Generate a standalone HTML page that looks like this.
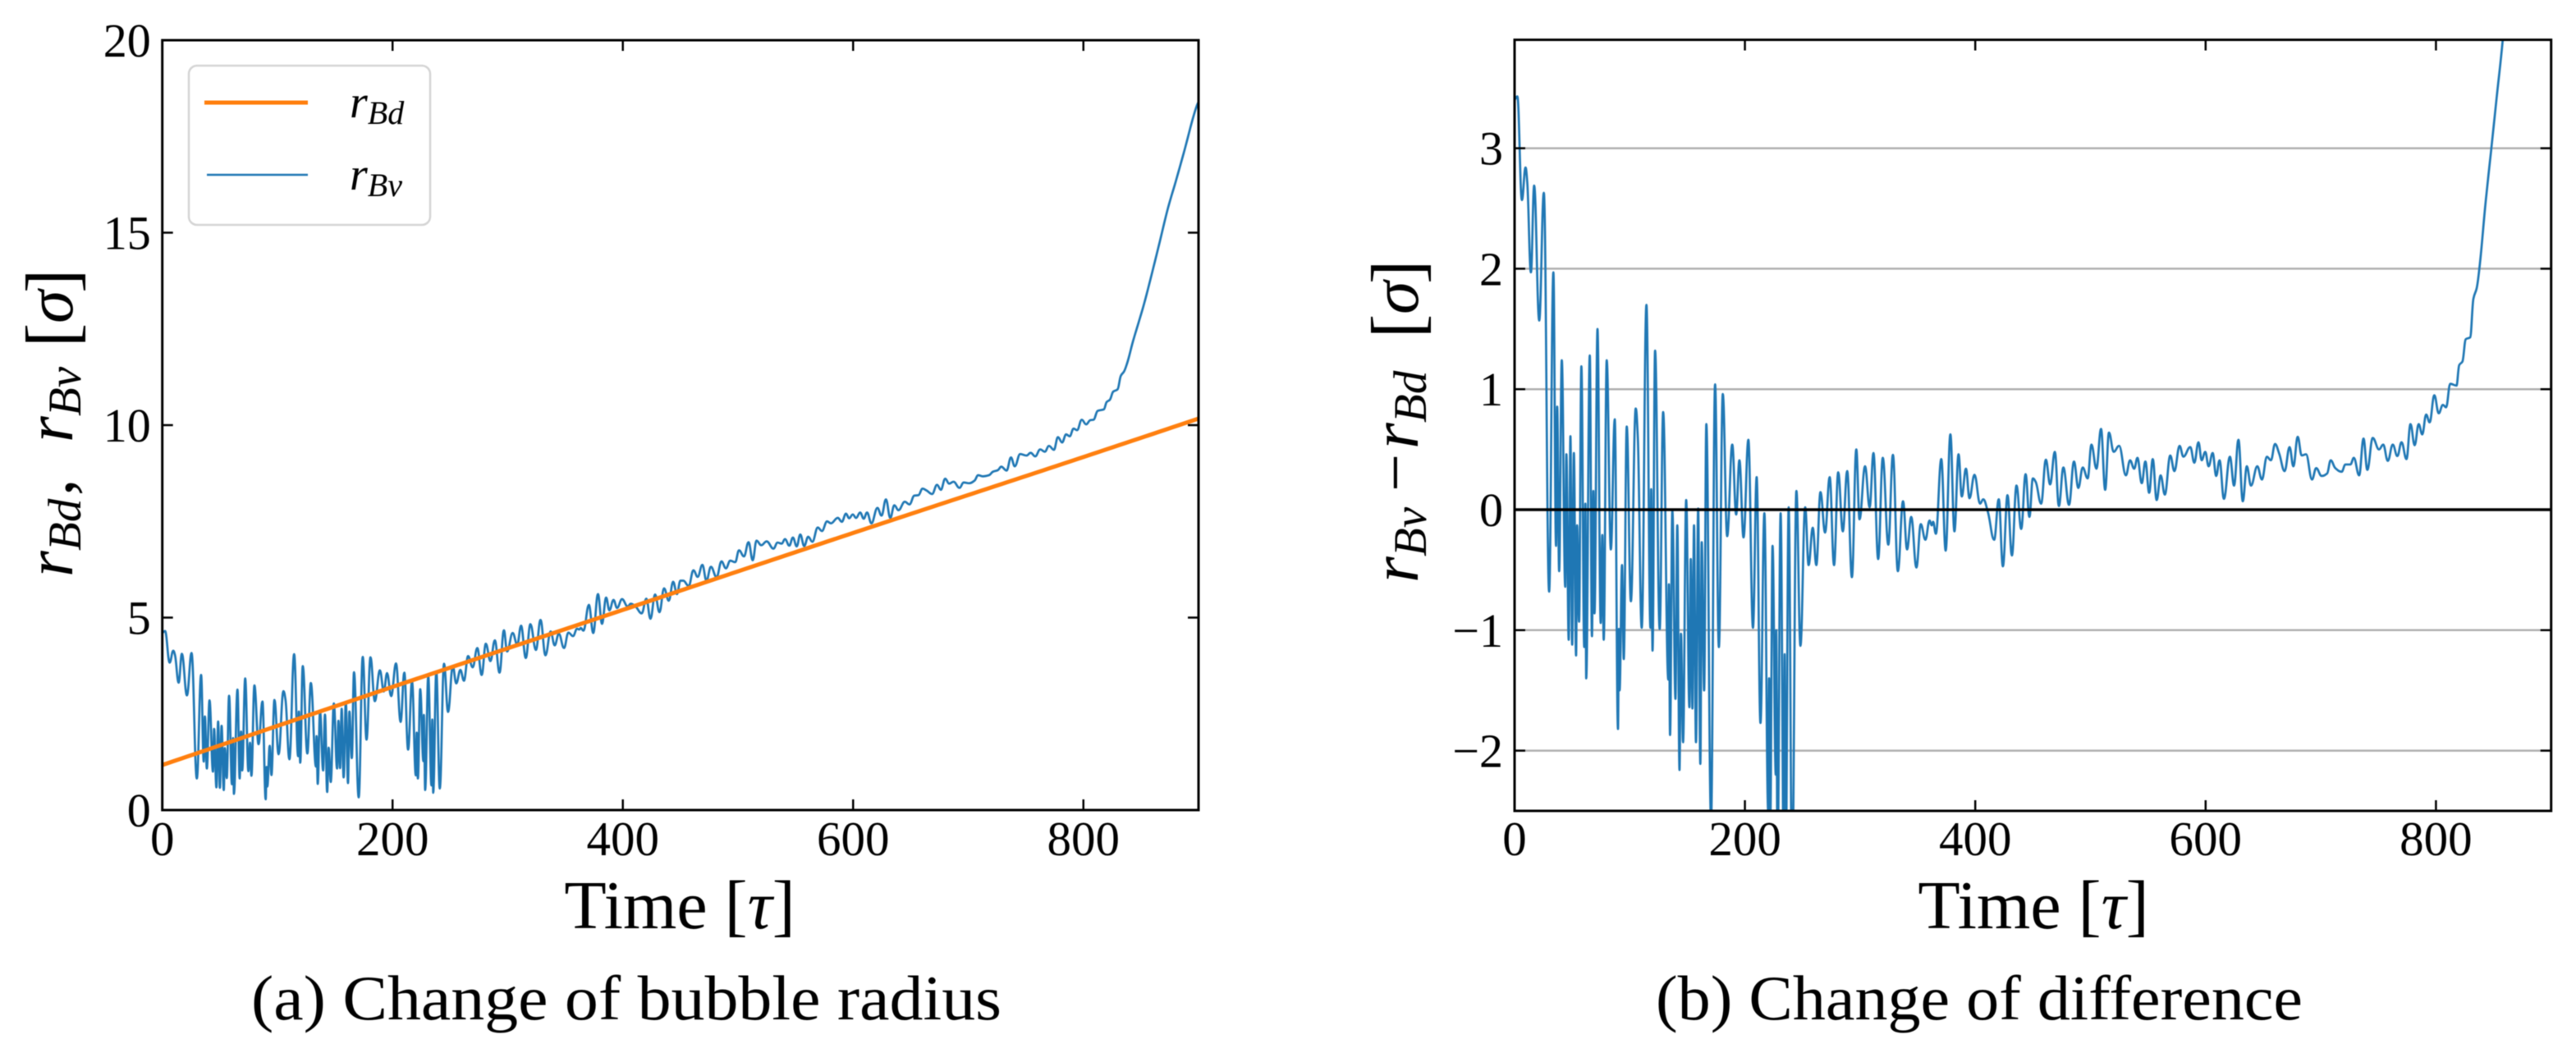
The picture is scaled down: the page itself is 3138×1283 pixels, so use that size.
<!DOCTYPE html>
<html lang="en">
<head>
<meta charset="utf-8">
<title>Bubble radius and difference over time</title>
<style>
html,body{margin:0;padding:0;background:#fff;width:3138px;height:1283px;overflow:hidden}
svg{display:block;filter:blur(0.6px)}
text{font-family:"Liberation Serif",serif;fill:#000}
.it{font-style:italic}
</style>
</head>
<body>
<svg id="figure" xmlns="http://www.w3.org/2000/svg" width="3138" height="1283" viewBox="0 0 3138 1283">
  <defs>
    <clipPath id="clip-a"><rect x="197.7" y="49" width="1262.3" height="938"/></clipPath>
    <clipPath id="clip-b"><rect x="1845" y="48.5" width="1262.7" height="939.5"/></clipPath>
  </defs>
  <g id="panel-a"></g>
  <g id="panel-b"></g>

  <g>
    <rect x="230" y="80" width="294" height="194" rx="10" ry="10" fill="#fff" fill-opacity="0.9" stroke="#d4d4d4" stroke-width="2.5"/>
    <line x1="249" y1="125" x2="375" y2="125" stroke="#ff7f0e" stroke-width="5"/>
    <line x1="252" y1="213" x2="375" y2="213" stroke="#1f77b4" stroke-width="2.6"/>
    <text x="426" y="143" font-size="56" class="it">r<tspan font-size="40" dy="8">Bd</tspan></text>
    <text x="426" y="231" font-size="56" class="it">r<tspan font-size="40" dy="8">Bv</tspan></text>
  </g>

  <text transform="translate(88,703) rotate(-90)" font-size="82"><tspan class="it" x="0" y="0">r</tspan><tspan class="it" font-size="57" x="32" y="10">Bd</tspan><tspan x="99" y="0">,</tspan><tspan class="it" x="164" y="0">r</tspan><tspan class="it" font-size="57" x="196" y="10">Bv</tspan><tspan font-size="88" x="280" y="4">[</tspan><tspan class="it" x="309" y="0">σ</tspan><tspan font-size="88" x="346" y="4">]</tspan></text>
  <text transform="translate(1727,710) rotate(-90)" font-size="82"><tspan class="it" x="0" y="0">r</tspan><tspan class="it" font-size="57" x="32" y="10">Bv</tspan><tspan x="111" y="0">−</tspan><tspan class="it" x="163" y="0">r</tspan><tspan class="it" font-size="57" x="195" y="10">Bd</tspan><tspan font-size="88" x="298" y="4">[</tspan><tspan class="it" x="327" y="0">σ</tspan><tspan font-size="88" x="364" y="4">]</tspan></text>

  <text x="828" y="1131" font-size="84" text-anchor="middle">Time [<tspan class="it">τ</tspan>]</text>
  <text x="2477" y="1131" font-size="84" text-anchor="middle">Time [<tspan class="it">τ</tspan>]</text>

  <text x="306" y="1242" font-size="77" textLength="914" lengthAdjust="spacingAndGlyphs">(a) Change of bubble radius</text>
  <text x="2017" y="1242" font-size="77" textLength="788" lengthAdjust="spacingAndGlyphs">(b) Change of difference</text>
</svg>

<script>
const xTickValues = [0, 200, 400, 600, 800];
const radiusTickValues = [0, 5, 10, 15, 20];
const differenceTickValues = [-2, -1, 0, 1, 2, 3];
const differenceGridValues = [-2, -1, 1, 2, 3];
const zeroLineValue = [0];
const xLimits = [0, 900];
const radiusLimits = [0, 20];
const differenceLimits = [-2.5, 3.9];

const rBdTimes = [0, 200, 400, 600, 800, 900];
const rBdValues = [1.17, 3.2, 5.2, 7.2, 9.17, 10.17];

const times = [0,2.4,6.4,9.5,11,14.2,17,21.4,25.4,30,33.7,36,37,38.7,41,44,45,47,48.5,50,51.5,53.4,54.3,56,58,60.5,61.5,62.2,65.3,67.2,68.4,69.4,72,74.8,76.2,77.4,80,83.6,87,89.8,90.6,91.2,93.3,94.8,97.4,101,105.2,107,110.4,114.5,118,118.6,119.8,122,126,129,133.5,134,135,137,139.7,141.3,143.2,144.5,146.3,149,151.8,153,154.4,155.8,157.5,159.4,161.3,162.5,164.6,166.5,170.6,174.1,177.4,180.8,184.6,189,192.4,195.2,198.8,203,207,210.2,213.5,216.9,220.2,221,222,224,226.8,227.2,228.3,231,233.8,234.5,235.3,238,241,244.7,248.2,252.3,255.3,258.9,262,265.6,269.6,273.6,277.4,281,285,288.8,292.9,296.7,299.5,304.3,308.3,311.6,315.7,319.7,324.5,328.5,332.8,337.3,340.8,344.4,348.9,352.7,356.7,360.3,362.2,363.4,365.8,370.5,374.3,378.4,381.9,385.5,388.3,391.9,395,399.3,404.2,406.9,411,416.4,420.4,424,428,431.8,435.8,439.9,443.7,447,450,452.5,457.2,461.3,465,469.1,472.6,476.5,481.4,485.7,489.5,493.3,497.6,500.9,505.2,509.2,512.8,516.1,520.2,524.9,530.8,534.4,538,540.8,544.6,547.7,551,554.1,557.5,561,564.6,569.3,572.9,577.4,580.7,586.7,590.2,593.8,596.6,599.7,602.6,606.1,609.2,612.1,615.9,621.1,624.7,628.5,632.3,635.8,639.4,644.9,648.9,653.2,656.7,660.3,663.9,668.6,672.9,676.2,680,683.4,687.2,692.4,696,700.7,705.5,708.6,712.6,718.1,721.4,725.7,728.7,733.3,737.1,740.4,745.1,750.6,754.2,758.2,762.5,766.5,770.1,774.4,777.9,781.5,785,788.1,791.5,794.5,798.6,802.4,806,808.8,812.4,817.8,820.2,823,825.9,829.7,832.5,835.4,837.8,843.2,848,852.7,858,866.3,873.4,880.5,887.7,898.3,900];

const rBvValues = [4.60,4.65,3.83,4.14,4.03,3.31,4.06,2.98,4.08,0.82,3.51,1.26,2.43,1.08,2.85,1.00,2.11,0.59,2.30,0.58,2.19,0.52,1.61,0.83,2.97,0.67,1.87,0.42,3.13,0.82,2.04,1.03,3.42,1.01,1.75,0.89,3.24,1.71,2.82,0.28,1.12,0.61,1.67,0.91,2.86,1.45,3.09,2.87,1.32,4.05,1.40,2.56,1.23,3.74,1.47,3.30,1.13,1.92,0.68,2.56,1.03,2.48,0.47,1.62,0.73,2.77,1.08,2.32,1.09,2.63,0.85,2.80,0.70,2.56,1.35,3.58,0.33,3.98,1.83,3.97,2.83,3.63,3.08,3.56,2.96,3.81,2.29,3.57,1.57,3.34,0.90,2.01,0.82,3.14,1.27,2.47,0.52,3.48,0.64,2.35,0.45,3.60,0.56,3.80,2.55,3.74,3.29,3.64,3.36,4.00,3.71,4.21,3.51,4.32,3.87,4.41,3.57,4.67,4.12,4.60,4.30,4.79,3.95,4.83,4.16,4.94,4.02,4.64,4.28,4.58,4.21,4.61,4.52,4.71,4.69,4.73,4.66,5.33,4.60,5.61,4.84,5.52,5.19,5.46,5.25,5.48,5.29,5.36,5.29,5.11,5.49,4.97,5.60,5.14,5.76,5.44,5.93,5.61,5.96,5.96,5.82,6.23,6.06,6.37,5.96,6.32,6.05,6.46,6.28,6.48,6.44,6.75,6.59,6.96,6.49,7.00,6.88,6.98,6.79,6.95,6.92,7.04,6.87,7.08,6.85,7.16,6.86,7.10,6.97,7.34,7.25,7.50,7.45,7.59,7.49,7.70,7.58,7.68,7.59,7.73,7.57,7.73,7.45,7.85,7.65,8.07,7.59,7.92,7.79,8.01,7.94,8.17,8.18,8.35,8.30,8.21,8.45,8.32,8.61,8.48,8.53,8.37,8.51,8.49,8.56,8.70,8.67,8.70,8.79,8.83,8.92,8.82,9.16,8.93,9.25,9.21,9.28,9.19,9.37,9.31,9.46,9.36,9.69,9.55,9.76,9.71,9.91,9.87,10.14,10.02,10.13,10.14,10.37,10.41,10.60,10.66,10.87,10.93,11.28,11.40,11.59,12.19,12.67,13.15,13.76,14.76,15.63,16.36,17.13,18.28,18.40];

const differenceValues = [3.40,3.43,2.57,2.84,2.72,1.97,2.69,1.57,2.63,-0.68,1.97,-0.30,0.855,-0.51,1.24,-0.64,0.46,-1.08,0.61,-1.12,0.47,-1.21,-0.13,-0.93,1.19,-1.14,0.05,-1.40,1.28,-1.05,0.155,-0.86,1.50,-0.94,-0.21,-1.08,1.24,-0.33,0.75,-1.82,-0.99,-1.50,-0.46,-1.24,0.69,-0.76,0.84,0.60,-0.98,1.70,-0.98,0.17,-1.17,1.32,-0.99,0.81,-1.41,-0.62,-1.87,-0.01,-1.57,-0.13,-2.16,-1.03,-1.93,0.08,-1.64,-0.41,-1.65,-0.13,-1.93,0.01,-2.11,-0.27,-1.50,0.71,-2.58,1.04,-1.14,0.96,-0.22,0.54,-0.04,0.41,-0.23,0.58,-0.98,0.27,-1.77,-0.03,-2.50,-1.40,-2.60,-0.30,-2.20,-1.00,-2.96,-0.03,-2.90,-1.20,-3.10,0.02,-3.05,0.155,-1.13,0.02,-0.46,-0.15,-0.46,0.146,-0.19,0.27,-0.46,0.31,-0.18,0.32,-0.56,0.50,-0.08,0.36,0.02,0.47,-0.41,0.43,-0.29,0.455,-0.51,0.07,-0.33,-0.06,-0.48,-0.12,-0.25,-0.09,-0.13,-0.10,-0.20,0.42,-0.34,0.625,-0.18,0.46,0.11,0.34,0.095,0.29,0.05,0.086,-0.02,-0.25,0.086,-0.47,0.12,-0.38,0.20,-0.16,0.295,-0.06,0.26,0.23,0.05,0.415,0.21,0.48,0.03,0.35,0.04,0.40,0.18,0.35,0.26,0.54,0.34,0.67,0.165,0.64,0.48,0.53,0.285,0.41,0.34,0.43,0.22,0.40,0.14,0.42,0.08,0.285,0.125,0.45,0.32,0.53,0.44,0.52,0.39,0.56,0.41,0.48,0.36,0.47,0.28,0.41,0.09,0.44,0.20,0.58,0.07,0.36,0.20,0.36,0.25,0.44,0.41,0.545,0.465,0.32,0.52,0.36,0.605,0.45,0.46,0.25,0.345,0.28,0.30,0.41,0.345,0.315,0.375,0.375,0.43,0.285,0.59,0.33,0.595,0.50,0.54,0.405,0.54,0.445,0.56,0.42,0.71,0.535,0.71,0.625,0.79,0.725,0.95,0.80,0.87,0.85,1.045,1.03,1.20,1.23,1.415,1.43,1.75,1.84,2.01,2.56,2.99,3.42,3.90,4.90,5.70,6.35,7.05,8.10,8.20];

const SVG_NS = 'http://www.w3.org/2000/svg';

function scale(domain, range) {
  return function (v) {
    return range[0] + (v - domain[0]) * (range[1] - range[0]) / (domain[1] - domain[0]);
  };
}

function make(parent, tag, attrs) {
  const el = document.createElementNS(SVG_NS, tag);
  for (const k in attrs) el.setAttribute(k, attrs[k]);
  parent.appendChild(el);
  return el;
}

/* Monotone cubic path: extrema get flat tangents, so peaks and troughs round off as in the reference. */
function pathFrom(xs, ys, xFn, yFn) {
  const px = xs.map(xFn);
  const py = ys.map(yFn);
  const n = px.length;
  const slope = [];
  for (let i = 0; i < n - 1; i++) slope.push((py[i + 1] - py[i]) / (px[i + 1] - px[i]));
  const tangent = [];
  for (let i = 0; i < n; i++) {
    if (i === 0) tangent.push(slope[0]);
    else if (i === n - 1) tangent.push(slope[n - 2]);
    else if (slope[i - 1] * slope[i] <= 0) tangent.push(0);
    else tangent.push(2 * slope[i - 1] * slope[i] / (slope[i - 1] + slope[i]));
  }
  let d = 'M' + px[0].toFixed(2) + ' ' + py[0].toFixed(2);
  for (let i = 0; i < n - 1; i++) {
    const h = (px[i + 1] - px[i]) * 0.4;
    d += 'C' + (px[i] + h).toFixed(2) + ' ' + (py[i] + tangent[i] * h).toFixed(2) + ' ' +
         (px[i + 1] - h).toFixed(2) + ' ' + (py[i + 1] - tangent[i + 1] * h).toFixed(2) + ' ' +
         px[i + 1].toFixed(2) + ' ' + py[i + 1].toFixed(2);
  }
  return d;
}

function drawFrameAndTicks(g, xFn, yFn, box, yTicks) {
  xTickValues.forEach(function (v) {
    const lower = make(g, 'line', {x1: xFn(v), x2: xFn(v), y1: box.bottom, y2: box.bottom - 13, stroke: '#000', 'stroke-width': 2.5});
    
    
    const upper = make(g, 'line', {x1: xFn(v), x2: xFn(v), y1: box.top, y2: box.top + 13, stroke: '#000', 'stroke-width': 2.5});
    
    
    const label = make(g, 'text', {x: xFn(v), y: 1042, 'font-size': 59, 'text-anchor': 'middle'});
    label.textContent = String(v);
    
    
  });
  yTicks.forEach(function (v) {
    const lefty = make(g, 'line', {x1: box.left, x2: box.left + 13, y1: yFn(v), y2: yFn(v), stroke: '#000', 'stroke-width': 2.5});
    
    
    const righty = make(g, 'line', {x1: box.right, x2: box.right - 13, y1: yFn(v), y2: yFn(v), stroke: '#000', 'stroke-width': 2.5});
    
    
    const label = make(g, 'text', {x: box.left - 14, y: yFn(v) + 20, 'font-size': 58, 'text-anchor': 'end'});
    label.textContent = String(v).replace('-', '\u2212');
    
    
  });
  const frame = make(g, 'rect', {x: box.left, y: box.top, width: box.right - box.left, height: box.bottom - box.top, fill: 'none', stroke: '#000', 'stroke-width': 3});
  
  
}

/* Panel (a): radii */
const boxA = {left: 197.7, right: 1460, top: 49, bottom: 987};
const xA = scale(xLimits, [boxA.left, boxA.right]);
const yA = scale(radiusLimits, [boxA.bottom, boxA.top]);
const gA = document.getElementById('panel-a');

const rBvLine = make(gA, 'path', {d: pathFrom(times, rBvValues, xA, yA), fill: 'none', stroke: '#1f77b4', 'stroke-width': 2.7, 'clip-path': 'url(#clip-a)'});



const rBdLine = make(gA, 'path', {d: pathFrom(rBdTimes, rBdValues, xA, yA), fill: 'none', stroke: '#ff7f0e', 'stroke-width': 5, 'clip-path': 'url(#clip-a)'});



drawFrameAndTicks(gA, xA, yA, boxA, radiusTickValues);

/* Panel (b): difference */
const boxB = {left: 1845, right: 3107.7, top: 48.5, bottom: 988};
const xB = scale(xLimits, [boxB.left, boxB.right]);
const yB = scale(differenceLimits, [boxB.bottom, boxB.top]);
const gB = document.getElementById('panel-b');

differenceGridValues.forEach(function (v) {
  const grid = make(gB, 'line', {x1: boxB.left, x2: boxB.right, y1: yB(v), y2: yB(v), stroke: '#b0b0b0', 'stroke-width': 2.5});
  
  
});

const diffLine = make(gB, 'path', {d: pathFrom(times, differenceValues, xB, yB), fill: 'none', stroke: '#1f77b4', 'stroke-width': 2.7, 'clip-path': 'url(#clip-b)'});



zeroLineValue.forEach(function (v) {
  const zero = make(gB, 'line', {x1: boxB.left, x2: boxB.right, y1: yB(v), y2: yB(v), stroke: '#000', 'stroke-width': 3.5});
  
  
});

drawFrameAndTicks(gB, xB, yB, boxB, differenceTickValues);
</script>
</body>
</html>
